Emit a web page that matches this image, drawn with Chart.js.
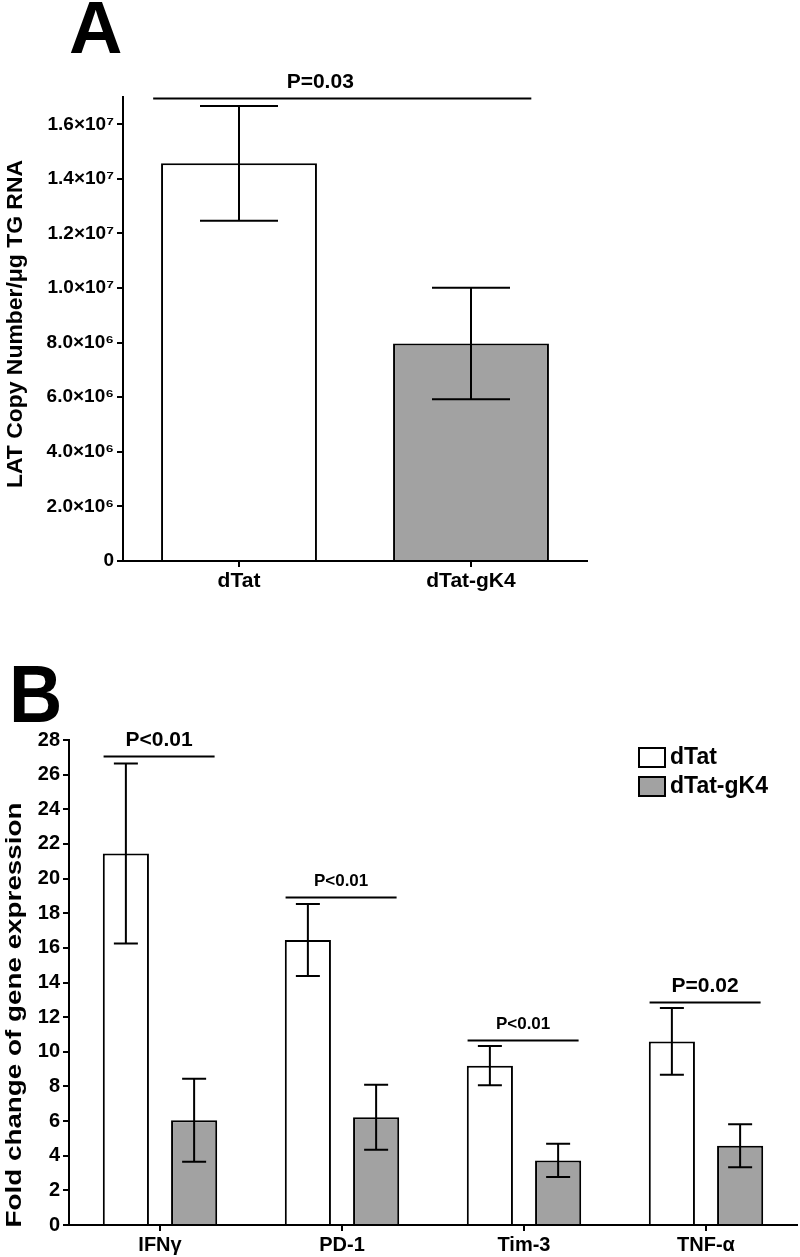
<!DOCTYPE html>
<html>
<head>
<meta charset="utf-8">
<script src="https://cdn.jsdelivr.net/npm/chart.js@4.4.0/dist/chart.umd.min.js"></script>
<style>
  body { margin: 0; background: #fff; width: 800px; height: 1257px; overflow: hidden; position: relative; }
  canvas { position: absolute; left: 0; }
  #chartA { top: 0; }
  #chartB { top: 620px; }
  .panel { position: absolute; font-family: 'Liberation Sans', Arial, sans-serif; font-weight: bold; color: #000; line-height: 1; }
  #letterA { left: 69px; top: -9px; font-size: 74px; }
  #letterB { left: 9px; top: 653px; font-size: 82px; transform: scaleX(0.9); transform-origin: left top; }
</style>
</head>
<body>
<div class="panel" id="letterA">A</div>
<div class="panel" id="letterB">B</div>
<canvas id="chartA" width="800" height="620"></canvas>
<canvas id="chartB" width="800" height="637"></canvas>
<script>
// ---- panel A data ----
const groupsA = ['dTat', 'dTat-gK4'];
const meansA = [14.57e6, 7.97e6];
const errorsA = [2.1e6, 2.04e6];
const yTicksA = [0, 2e6, 4e6, 6e6, 8e6, 10e6, 12e6, 14e6, 16e6];
const yTickLabelsA = ['0', '2.0×10⁶', '4.0×10⁶', '6.0×10⁶', '8.0×10⁶', '1.0×10⁷', '1.2×10⁷', '1.4×10⁷', '1.6×10⁷'];
const sigLabelsA = ['P=0.03'];
const sigHeightsA = [1.695e7];

// ---- panel B data ----
const genesB = ['IFNγ', 'PD-1', 'Tim-3', 'TNF-α'];
const seriesNames = ['dTat', 'dTat-gK4'];
const dTatMeans = [21.45, 16.45, 9.2, 10.6];
const dTatErrors = [5.2, 2.08, 1.13, 1.93];
const gK4Means = [6.05, 6.22, 3.73, 4.58];
const gK4Errors = [2.4, 1.88, 0.96, 1.24];
const yTicksB = [0, 2, 4, 6, 8, 10, 12, 14, 16, 18, 20, 22, 24, 26, 28];
const sigLabelsB = ['P<0.01', 'P<0.01', 'P<0.01', 'P=0.02'];
const sigHeightsB = [27.08, 18.94, 10.68, 12.87];

const FONT = "'Liberation Sans', Arial, sans-serif";
const GREY = '#a2a2a2';
Chart.defaults.color = '#000';
Chart.defaults.font.family = FONT;
Chart.defaults.font.weight = 'bold';

// ============================================
// PLUGINS
// ============================================
const errorBars = {
    id: 'errorBars',
    afterDatasetsDraw(chart, args, opts) {
        const ctx = chart.ctx;
        const y = chart.scales.y;
        ctx.save();
        ctx.strokeStyle = '#000';
        ctx.lineWidth = 2;
        chart.data.datasets.forEach((ds, di) => {
            const meta = chart.getDatasetMeta(di);
            meta.data.forEach((bar, i) => {
                const v = ds.data[i];
                const e = opts.errors[di][i];
                const top = y.getPixelForValue(v + e);
                const bot = y.getPixelForValue(v - e);
                const half = opts.capWidth / 2;
                ctx.beginPath();
                ctx.moveTo(bar.x, top); ctx.lineTo(bar.x, bot);
                ctx.moveTo(bar.x - half, top); ctx.lineTo(bar.x + half, top);
                ctx.moveTo(bar.x - half, bot); ctx.lineTo(bar.x + half, bot);
                ctx.stroke();
            });
        });
        ctx.restore();
    }
};

const sigBrackets = {
    id: 'sigBrackets',
    afterDraw(chart, args, opts) {
        const ctx = chart.ctx;
        const x = chart.scales.x, y = chart.scales.y;
        ctx.save();
        ctx.strokeStyle = '#000';
        ctx.fillStyle = '#000';
        ctx.lineWidth = 2;
        opts.labels.forEach((label, i) => {
            const x1 = x.getPixelForValue(opts.cats[i] + opts.from);
            const x2 = x.getPixelForValue(opts.cats[i] + opts.to);
            const yy = Math.round(y.getPixelForValue(opts.heights[i])) + 0.5;
            ctx.beginPath();
            ctx.moveTo(x1, yy); ctx.lineTo(x2, yy);
            ctx.stroke();
            ctx.font = 'bold ' + opts.sizes[i] + 'px ' + FONT;
            ctx.textAlign = 'center';
            ctx.textBaseline = 'middle';
            ctx.fillText(label, (x1 + x2) / 2 + (opts.dx ? opts.dx[i] : 0), yy - 16);
        });
        ctx.restore();
    }
};

// rotated y title, stretched along its baseline to fit the given length
const yTitle = {
    id: 'yTitle',
    afterDraw(chart, args, opts) {
        const ctx = chart.ctx;
        ctx.save();
        ctx.translate(opts.x, opts.y);
        ctx.rotate(-Math.PI / 2);
        ctx.font = 'bold ' + opts.size + 'px ' + FONT;
        const w = ctx.measureText(opts.text).width;
        ctx.scale(opts.length / w, 1);
        ctx.fillStyle = '#000';
        ctx.textAlign = 'center';
        ctx.textBaseline = 'middle';
        ctx.fillText(opts.text, 0, 0);
        ctx.restore();
    }
};

const boxLegend = {
    id: 'boxLegend',
    afterDraw(chart, args, opts) {
        if (!opts.show) return;
        const ctx = chart.ctx;
        ctx.save();
        ctx.font = 'bold 23px ' + FONT;
        ctx.textBaseline = 'middle';
        ctx.textAlign = 'left';
        chart.data.datasets.forEach((ds, i) => {
            const top = opts.y + i * 29;
            ctx.fillStyle = ds.backgroundColor;
            ctx.fillRect(opts.x, top, 26, 19);
            ctx.strokeStyle = '#000';
            ctx.lineWidth = 2;
            ctx.strokeRect(opts.x, top, 26, 19);
            ctx.fillStyle = '#000';
            ctx.fillText(ds.label, opts.x + 31, top + 10);
        });
        ctx.restore();
    }
};

function axisStyle() {
    return {
        border: { display: true, color: '#000', width: 2 },
        grid: { display: true, drawOnChartArea: false, drawTicks: true, tickLength: 6, color: '#000', lineWidth: 2, offset: false }
    };
}

// ============================================
// PANEL A
// ============================================
new Chart(document.getElementById('chartA'), {
    type: 'bar',
    data: {
        labels: groupsA,
        datasets: [{
            label: 'LAT',
            data: meansA,
            backgroundColor: ['#ffffff', GREY],
            borderColor: '#000',
            borderWidth: 2,
            borderSkipped: 'bottom',
            categoryPercentage: 1,
            barPercentage: 0.672
        }]
    },
    options: {
        responsive: false,
        animation: false,
        layout: { padding: { top: 97, right: 213, left: 0, bottom: 0 } },
        plugins: {
            legend: { display: false },
            tooltip: { enabled: false },
            errorBars: { errors: [errorsA], capWidth: 78 },
            sigBrackets: { labels: sigLabelsA, heights: sigHeightsA, cats: [0], from: -0.37, to: 1.26, sizes: [21], dx: [-22] },
            yTitle: { text: 'LAT Copy Number/μg TG RNA', x: 16, y: 324, size: 22, length: 328 },
            boxLegend: { show: false }
        },
        scales: {
            x: {
                ...axisStyle(),
                ticks: { font: { size: 21, weight: 'bold' }, padding: 2 },
                afterFit: (s) => { s.height = 59; }
            },
            y: {
                ...axisStyle(),
                min: 0,
                max: 1.7e7,
                afterBuildTicks: (s) => { s.ticks = yTicksA.map(v => ({ value: v })); },
                ticks: {
                    font: { size: 19, weight: 'bold' },
                    padding: 3,
                    callback: (v) => yTickLabelsA[yTicksA.indexOf(v)]
                },
                afterFit: (s) => { s.width = 123; }
            }
        }
    },
    plugins: [errorBars, sigBrackets, yTitle, boxLegend]
});

// ============================================
// PANEL B
// ============================================
new Chart(document.getElementById('chartB'), {
    type: 'bar',
    data: {
        labels: genesB,
        datasets: [
            { label: seriesNames[0], data: dTatMeans, backgroundColor: '#ffffff' },
            { label: seriesNames[1], data: gK4Means, backgroundColor: GREY }
        ].map(d => Object.assign(d, {
            borderColor: '#000', borderWidth: 2, borderSkipped: 'bottom',
            categoryPercentage: 0.75, barPercentage: 0.676
        }))
    },
    options: {
        responsive: false,
        animation: false,
        layout: { padding: { top: 120, right: 3, left: 0, bottom: 0 } },
        plugins: {
            legend: { display: false },
            tooltip: { enabled: false },
            errorBars: { errors: [dTatErrors, gK4Errors], capWidth: 24 },
            sigBrackets: { labels: sigLabelsB, heights: sigHeightsB, cats: [0, 1, 2, 3], from: -0.31, to: 0.30, sizes: [21, 17, 17, 21] },
            yTitle: { text: 'Fold change of gene expression', x: 15, y: 395, size: 22, length: 425 },
            boxLegend: { show: true, x: 639, y: 128 }
        },
        scales: {
            x: {
                ...axisStyle(),
                ticks: { font: { size: 20, weight: 'bold' }, padding: 2 },
                afterFit: (s) => { s.height = 32; }
            },
            y: {
                ...axisStyle(),
                min: 0,
                max: 28,
                afterBuildTicks: (s) => { s.ticks = yTicksB.map(v => ({ value: v })); },
                ticks: { font: { size: 20, weight: 'bold' }, padding: 3 },
                afterFit: (s) => { s.width = 69; }
            }
        }
    },
    plugins: [errorBars, sigBrackets, yTitle, boxLegend]
});
</script>
</body>
</html>
